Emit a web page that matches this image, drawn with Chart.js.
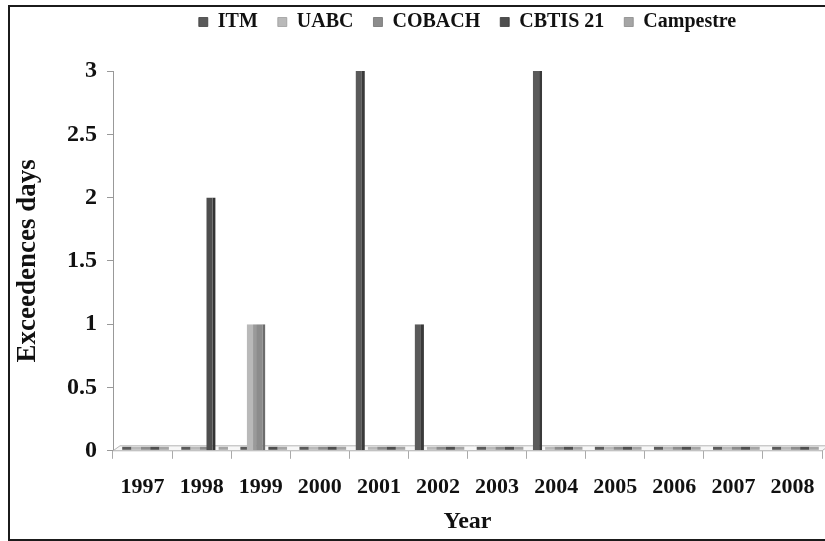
<!DOCTYPE html>
<html>
<head>
<meta charset="utf-8">
<script src="https://cdn.jsdelivr.net/npm/chart.js@4.4.1/dist/chart.umd.min.js"></script>
<style>
  html, body { margin: 0; padding: 0; background: #fff; overflow: hidden; }
  #marco { position: absolute; left: 8px; top: 5px; width: 840px; height: 532px; border: 2px solid #1b1b1b; }
  #wrap { position: absolute; left: 0; top: 0; width: 830px; height: 541px; }
</style>
</head>
<body>
<div id="marco"></div>
<div id="wrap"><canvas id="chart-container"></canvas></div>
<script>
// Datos del gráfico
const years = ['1997', '1998', '1999', '2000', '2001', '2002', '2003', '2004', '2005', '2006', '2007', '2008'];
const itm       = [0, 0, 0, 0, 3, 1, 0, 3, 0, 0, 0, 0];
const uabc      = [0, 0, 1, 0, 0, 0, 0, 0, 0, 0, 0, 0];
const cobach    = [0, 0, 1, 0, 0, 0, 0, 0, 0, 0, 0, 0];
const cbtis21   = [0, 2, 0, 0, 0, 0, 0, 0, 0, 0, 0, 0];
const campestre = [0, 0, 0, 0, 0, 0, 0, 0, 0, 0, 0, 0];
const yTicks = [0, 0.5, 1, 1.5, 2, 2.5, 3];

const serif = "'Liberation Serif', 'Times New Roman', serif";

// Piso del gráfico 3D y las "losas" de los valores cero
const floorPlugin = {
  id: 'floor',
  beforeLayout(chart) {
    // espacio extra debajo de la leyenda
    const legend = chart.legend;
    if (legend && !legend._patched) {
      const fit = legend.fit;
      legend.fit = function () { fit.call(this); this.height += 29; };
      legend._patched = true;
    }
  },
  beforeDatasetsDraw(chart) {
    const ctx = chart.ctx;
    const area = chart.chartArea;
    const y0 = chart.scales.y.getPixelForValue(0);
    ctx.save();
    ctx.beginPath();
    ctx.moveTo(area.left, y0);
    ctx.lineTo(area.left + 7, y0 - 5);
    ctx.lineTo(area.right + 7, y0 - 5);
    ctx.lineTo(area.right, y0);
    ctx.closePath();
    ctx.fillStyle = '#f7f7f7';
    ctx.fill();
    ctx.strokeStyle = '#b5b5b5';
    ctx.lineWidth = 1;
    ctx.stroke();
    chart.data.datasets.forEach((ds, i) => {
      const meta = chart.getDatasetMeta(i);
      meta.data.forEach((bar, j) => {
        if (ds.data[j] === 0) {
          ctx.fillStyle = ds.backgroundColor;
          ctx.fillRect(bar.x - bar.width / 2 + 3, y0 - 4, bar.width, 3);
        }
      });
    });
    ctx.restore();
  }
};

function makeSet(label, data, color, side) {
  return {
    label: label,
    data: data,
    backgroundColor: color,
    borderColor: side,
    borderWidth: { top: 0, right: 3, bottom: 0, left: 0 },
    borderSkipped: false,
    categoryPercentage: 0.79,
    barPercentage: 1.0
  };
}

const ctx = document.getElementById('chart-container').getContext('2d');
ctx.canvas.width = 830;
ctx.canvas.height = 541;

window.myChart = new Chart(ctx, {
  type: 'bar',
  data: {
    labels: years,
    datasets: [
      makeSet('ITM', itm, '#5a5a5a', '#3a3a3a'),
      makeSet('UABC', uabc, '#b9b9b9', '#9a9a9a'),
      makeSet('COBACH', cobach, '#8c8c8c', '#6c6c6c'),
      makeSet('CBTIS 21', cbtis21, '#4e4e4e', '#333333'),
      makeSet('Campestre', campestre, '#a5a5a5', '#858585')
    ]
  },
  options: {
    responsive: false,
    animation: false,
    layout: { padding: { top: -8, left: 12, right: 8, bottom: 5 } },
    plugins: {
      tooltip: { enabled: false },
      legend: {
        position: 'top',
        fullSize: false,
        labels: {
          boxWidth: 9,
          boxHeight: 9,
          padding: 20,
          color: '#111',
          font: { family: serif, size: 20, weight: 'bold' }
        }
      }
    },
    scales: {
      x: {
        grid: { offset: true, drawOnChartArea: false, tickLength: 8, color: '#aaaaaa' },
        border: { display: true, color: '#b5b5b5' },
        ticks: { color: '#111', padding: 15, maxRotation: 0, font: { family: serif, size: 22, weight: 'bold' } },
        title: { display: true, text: 'Year', color: '#111', padding: { top: -8, bottom: 0 }, font: { family: serif, size: 24, weight: 'bold' } }
      },
      y: {
        min: 0,
        max: 3,
        afterBuildTicks: (axis) => { axis.ticks = yTicks.map(v => ({ value: v })); },
        afterFit: (axis) => { axis.width = 101; },
        grid: { drawOnChartArea: false, tickLength: 6, color: '#999999' },
        border: { display: true, color: '#999999' },
        ticks: { color: '#111', padding: 10, callback: (v) => String(v), font: { family: serif, size: 24, weight: 'bold' } },
        title: { display: true, text: 'Exceedences days', color: '#111', padding: 0, font: { family: serif, size: 27, weight: 'bold' } }
      }
    }
  },
  plugins: [floorPlugin]
});
</script>
</body>
</html>
